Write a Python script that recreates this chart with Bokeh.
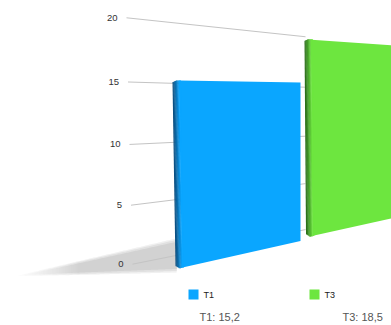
from bokeh.plotting import figure
from bokeh.models import Range1d
from bokeh.core.properties import value
from bokeh.embed import file_html
from bokeh.resources import INLINE

# Chart data
categories = ["T1", "T3"]
series_values = [15.2, 18.5]
value_labels = ["T1: 15,2", "T3: 18,5"]
tick_values = [0, 5, 10, 15, 20]
tick_labels = ["0", "5", "10", "15", "20"]

FRONT = ["#0aa6ff", "#6de63f"]
SIDE_DARK = ["#0c4f80", "#2b6e1a"]

# Perspective of each column: x extent, side strip width, baseline and pixels per unit at both ends
COLUMNS = [
    dict(x0=172, x1=300, skew=3.0, side=8.0, base0=269.5, base1=240.5, unit0=12.47, unit1=10.43),
    dict(x0=304, x1=395, skew=1.5, side=8.0, base0=237.5, base1=217, unit0=10.75, unit1=9.3),
]


def mix(a, b, t):
    ca = [int(a[i:i + 2], 16) for i in (1, 3, 5)]
    cb = [int(b[i:i + 2], 16) for i in (1, 3, 5)]
    return "#%02x%02x%02x" % tuple(round(p + (q - p) * t) for p, q in zip(ca, cb))


def wall_y(v, x):
    """Screen y of value v on the receding back wall."""
    return 264.5 - 11.75 * v - 0.03 * v * v + (x - 128) * (-0.2 + 0.0153 * v)


p = figure(width=391, height=325, output_backend="svg", toolbar_location=None,
           x_range=Range1d(0, 391), y_range=Range1d(325, 0),
           min_border=0, outline_line_color=None, background_fill_color="white",
           border_fill_color="white")
p.axis.visible = False
p.grid.visible = False

# Floor shadow, fading towards the left with soft edges
apex_x, apex_y = 12, 276
for step in range(0, 164):
    x = apex_x + step
    t = step / 163
    top = apex_y + (238 - apex_y) * t
    bottom = apex_y + (272 - apex_y) * t
    shade = min(1.0, (t / 0.4) ** 1.2)
    layers = [("#ececec", 0.0), ("#dadada", 1.5), ("#c8c8c8", 3.5)]
    for colour, inset in layers:
        p.quad(left=x, right=x + 1, top=top + inset * t ** 0.5, bottom=bottom - inset * t ** 0.5,
               fill_color=mix("#ffffff", colour, shade), line_color=None)

# Gridlines on the back wall
for v in tick_values:
    left = 132 - 0.3 * v
    p.line([left, 305], [wall_y(v, left), wall_y(v, 305)], line_color="#c4c4c4", line_width=1)

# Tick labels
p.text(x=[132 - 0.3 * v - 9 for v in tick_values],
       y=[wall_y(v, 132 - 0.3 * v) for v in tick_values],
       text=tick_labels, text_font=value("Liberation Sans"), text_font_size="9.5px",
       text_color="#333333", text_align="right", text_baseline="middle")

# Columns: a shaded side strip plus a front face whose height follows the value
for val, geo, front, dark in zip(series_values, COLUMNS, FRONT, SIDE_DARK):
    w = geo["x1"] - geo["x0"]

    def base(x):
        return geo["base0"] + (geo["base1"] - geo["base0"]) * (x - geo["x0"]) / w

    def top(x):
        unit = geo["unit0"] + (geo["unit1"] - geo["unit0"]) * (x - geo["x0"]) / w
        return base(x) - val * unit

    x0, x1, skew, side = geo["x0"], geo["x1"], geo["skew"], geo["side"]
    front_left_top = x0 + side
    front_left_base = x0 + skew + side
    p.patch([front_left_top - 1, x1, x1, front_left_base - 1],
            [top(front_left_top), top(x1), base(x1), base(front_left_base)],
            fill_color=front, line_color=None)

    strips = 10
    for i in range(strips):
        a = side * i / strips
        b = side * (i + 1) / strips + 0.4
        corner = max(0.0, 3.5 - a) * 0.9
        p.patch([x0 + a, x0 + b, x0 + skew + b, x0 + skew + a],
                [top(x0) + corner * 0.5, top(x0) + corner * 0.5,
                 base(x0 + skew + b) - corner, base(x0 + skew + a) - corner],
                fill_color=mix(dark, front, min(1.0, (i / (strips - 2)) ** 1.1)), line_color=None)

# Legend entries
p.quad(left=[188, 309], right=[198, 319], top=[289, 289], bottom=[299, 299],
       fill_color=FRONT, line_color=None)
p.text(x=[203, 324], y=[294, 294], text=categories, text_font=value("Liberation Sans"),
       text_font_size="9px", text_color="#222222", text_baseline="middle")

# Value captions
p.text(x=[199, 342], y=[316.5, 316.5], text=value_labels, text_font=value("Liberation Sans"),
       text_font_size="11px", text_color="#555555", text_baseline="middle")

open("out.html", "w").write(file_html(p, INLINE))
